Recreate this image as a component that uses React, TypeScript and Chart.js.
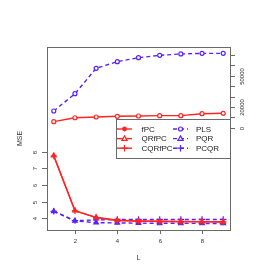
import React, { useEffect, useRef } from "react";
import { Chart, registerables } from "chart.js";
Chart.register(...registerables);

const L = [1, 2, 3, 4, 5, 6, 7, 8, 9];
const fPC = [5800, 9600, 10300, 11000, 11300, 11600, 11600, 13500, 13900];
const PLS = [16100, 32800, 57300, 63700, 67500, 69800, 71100, 71700, 71700];
const QRfPC = [7.76, 4.46, 4.06, 3.88, 3.84, 3.82, 3.81, 3.8, 3.79];
const CQRfPC = [7.74, 4.45, 4.04, 3.86, 3.83, 3.81, 3.8, 3.79, 3.78];
const PQR = [4.42, 3.84, 3.74, 3.72, 3.71, 3.7, 3.7, 3.69, 3.69];
const PCQR = [4.42, 3.86, 3.9, 3.93, 3.93, 3.93, 3.93, 3.93, 3.93];
const xTicks = [2, 4, 6, 8];
const leftTicks = [4, 5, 6, 7, 8];
const rightTicks = [0, 10000, 20000, 30000, 40000, 50000, 60000, 70000];
const rightLabels = [0, 20000, 50000];

const RED = "#ff2424";
const BLUE = "#5a20ff";
const FONT = '"Liberation Sans", Arial, sans-serif';

const pts = (ys: number[]) => L.map((x, i) => ({ x, y: ys[i] }));

const legendItems = [
  { label: "fPC", color: RED, dash: [], style: "circleFill", col: 0, row: 0 },
  { label: "QRfPC", color: RED, dash: [], style: "triangle", col: 0, row: 1 },
  { label: "CQRfPC", color: RED, dash: [], style: "cross", col: 0, row: 2 },
  { label: "PLS", color: BLUE, dash: [4, 3], style: "circle", col: 1, row: 0 },
  { label: "PQR", color: BLUE, dash: [4, 3], style: "triangle", col: 1, row: 1 },
  { label: "PCQR", color: BLUE, dash: [4, 3], style: "cross", col: 1, row: 2 },
];

function drawMarker(ctx: CanvasRenderingContext2D, style: string, x: number, y: number, color: string) {
  ctx.save();
  ctx.setLineDash([]);
  ctx.strokeStyle = color;
  ctx.fillStyle = color;
  ctx.lineWidth = 1.2;
  if (style === "circleFill") {
    ctx.beginPath(); ctx.arc(x, y, 2.4, 0, Math.PI * 2); ctx.fill();
  } else if (style === "circle") {
    ctx.beginPath(); ctx.arc(x, y, 2, 0, Math.PI * 2); ctx.fillStyle = "#fff"; ctx.fill(); ctx.stroke();
  } else if (style === "triangle") {
    ctx.beginPath(); ctx.moveTo(x, y - 2.7); ctx.lineTo(x + 2.6, y + 1.8); ctx.lineTo(x - 2.6, y + 1.8); ctx.closePath();
    ctx.fillStyle = "#fff"; ctx.fill(); ctx.stroke();
  } else if (style === "cross") {
    ctx.beginPath(); ctx.moveTo(x - 3.3, y); ctx.lineTo(x + 3.3, y); ctx.moveTo(x, y - 3.3); ctx.lineTo(x, y + 3.3); ctx.stroke();
  }
  ctx.restore();
}

const decor = {
  id: "decor",
  afterDatasetsDraw(chart: any) {
    const ctx = chart.ctx as CanvasRenderingContext2D;
    const { left, right, top, bottom } = chart.chartArea;
    const sx = chart.scales.x, yl = chart.scales.yL, yr = chart.scales.yR;
    ctx.save();
    ctx.strokeStyle = "#6a6a6a";
    ctx.lineWidth = 1;
    ctx.strokeRect(left + 0.5, top + 0.5, right - left, bottom - top);
    ctx.fillStyle = "#333";
    ctx.textAlign = "center";
    ctx.textBaseline = "middle";
    ctx.font = `6px ${FONT}`;
    xTicks.forEach((t) => {
      const px = Math.round(sx.getPixelForValue(t)) + 0.5;
      ctx.beginPath(); ctx.moveTo(px, bottom); ctx.lineTo(px, bottom + 4); ctx.stroke();
      ctx.fillText(String(t), px, bottom + 11.5);
    });
    leftTicks.forEach((t) => {
      const py = Math.round(yl.getPixelForValue(t)) + 0.5;
      ctx.beginPath(); ctx.moveTo(left - 5, py); ctx.lineTo(left, py); ctx.stroke();
      ctx.save(); ctx.translate(left - 12, py); ctx.rotate(-Math.PI / 2); ctx.fillText(String(t), 0, 0); ctx.restore();
    });
    rightTicks.forEach((t) => {
      const py = Math.round(yr.getPixelForValue(t)) + 0.5;
      ctx.beginPath(); ctx.moveTo(right, py); ctx.lineTo(right + 5, py); ctx.stroke();
      if (rightLabels.includes(t)) {
        ctx.save(); ctx.translate(right + 12.5, py); ctx.rotate(-Math.PI / 2); ctx.fillText(String(t), 0, 0); ctx.restore();
      }
    });
    ctx.font = `7px ${FONT}`;
    ctx.fillText("L", (left + right) / 2, bottom + 28);
    ctx.save(); ctx.translate(left - 27, (top + bottom) / 2); ctx.rotate(-Math.PI / 2); ctx.fillText("MSE", 0, 0); ctx.restore();
    // legend
    const lx0 = 116, ly0 = 119, lx1 = right, ly1 = 158;
    ctx.fillStyle = "#fff";
    ctx.fillRect(lx0, ly0, lx1 - lx0, ly1 - ly0);
    ctx.strokeStyle = "#6a6a6a";
    ctx.strokeRect(lx0 + 0.5, ly0 + 0.5, lx1 - lx0, ly1 - ly0);
    ctx.font = `8px ${FONT}`;
    ctx.textAlign = "left";
    legendItems.forEach((it) => {
      const y = 129 + it.row * 9.6;
      const xs = it.col === 0 ? 117 : 173;
      const xt = it.col === 0 ? 141.5 : 196;
      ctx.save();
      ctx.strokeStyle = it.color;
      ctx.lineWidth = 1.4;
      ctx.setLineDash(it.dash);
      ctx.beginPath(); ctx.moveTo(xs, y); ctx.lineTo(xs + 15, y); ctx.stroke();
      ctx.restore();
      drawMarker(ctx, it.style, xs + 7.5, y, it.color);
      ctx.fillStyle = "#222";
      ctx.fillText(it.label, xt, y + 0.5);
    });
    ctx.restore();
  },
};

export default function App() {
  const ref = useRef<HTMLCanvasElement>(null);
  useEffect(() => {
    const mk = (label: string, data: number[], color: string, axis: string, style: string, dashed: boolean, radius: number, fillWhite: boolean) => ({
      label,
      data: pts(data),
      yAxisID: axis,
      borderColor: color,
      backgroundColor: fillWhite ? "#fff" : color,
      pointBackgroundColor: fillWhite ? "#fff" : color,
      pointBorderColor: color,
      pointStyle: style,
      pointRadius: radius,
      pointBorderWidth: 1.2,
      borderWidth: 1.4,
      borderDash: dashed ? [4, 3] : [],
      tension: 0,
      fill: false,
    });
    const chart = new Chart(ref.current!, {
      type: "line",
      data: {
        datasets: [
          mk("fPC", fPC, RED, "yR", "circle", false, 2, true),
          mk("PLS", PLS, BLUE, "yR", "circle", true, 2, true),
          mk("QRfPC", QRfPC, RED, "yL", "triangle", false, 2.6, false),
          mk("CQRfPC", CQRfPC, RED, "yL", "cross", false, 3.2, false),
          mk("PQR", PQR, BLUE, "yL", "triangle", true, 2.6, false),
          mk("PCQR", PCQR, BLUE, "yL", "cross", true, 3.2, false),
        ] as any,
      },
      options: {
        responsive: false,
        animation: false,
        layout: { padding: { left: 47, top: 47, right: 40, bottom: 40 } },
        plugins: { legend: { display: false }, tooltip: { enabled: false } },
        scales: {
          x: { type: "linear", min: 0.68, max: 9.32, display: false },
          yL: { type: "linear", min: 3.298, max: 14.28, display: false, position: "left" },
          yR: { type: "linear", min: -98650, max: 77820, display: false, position: "right" },
        },
      },
      plugins: [decor],
    });
    return () => chart.destroy();
  }, []);
  return (
    <div style={{ position: "fixed", left: 0, top: 0, width: 270, height: 270, background: "#fff" }}>
      <canvas ref={ref} width={270} height={270} style={{ width: 270, height: 270 }} />
    </div>
  );
}
